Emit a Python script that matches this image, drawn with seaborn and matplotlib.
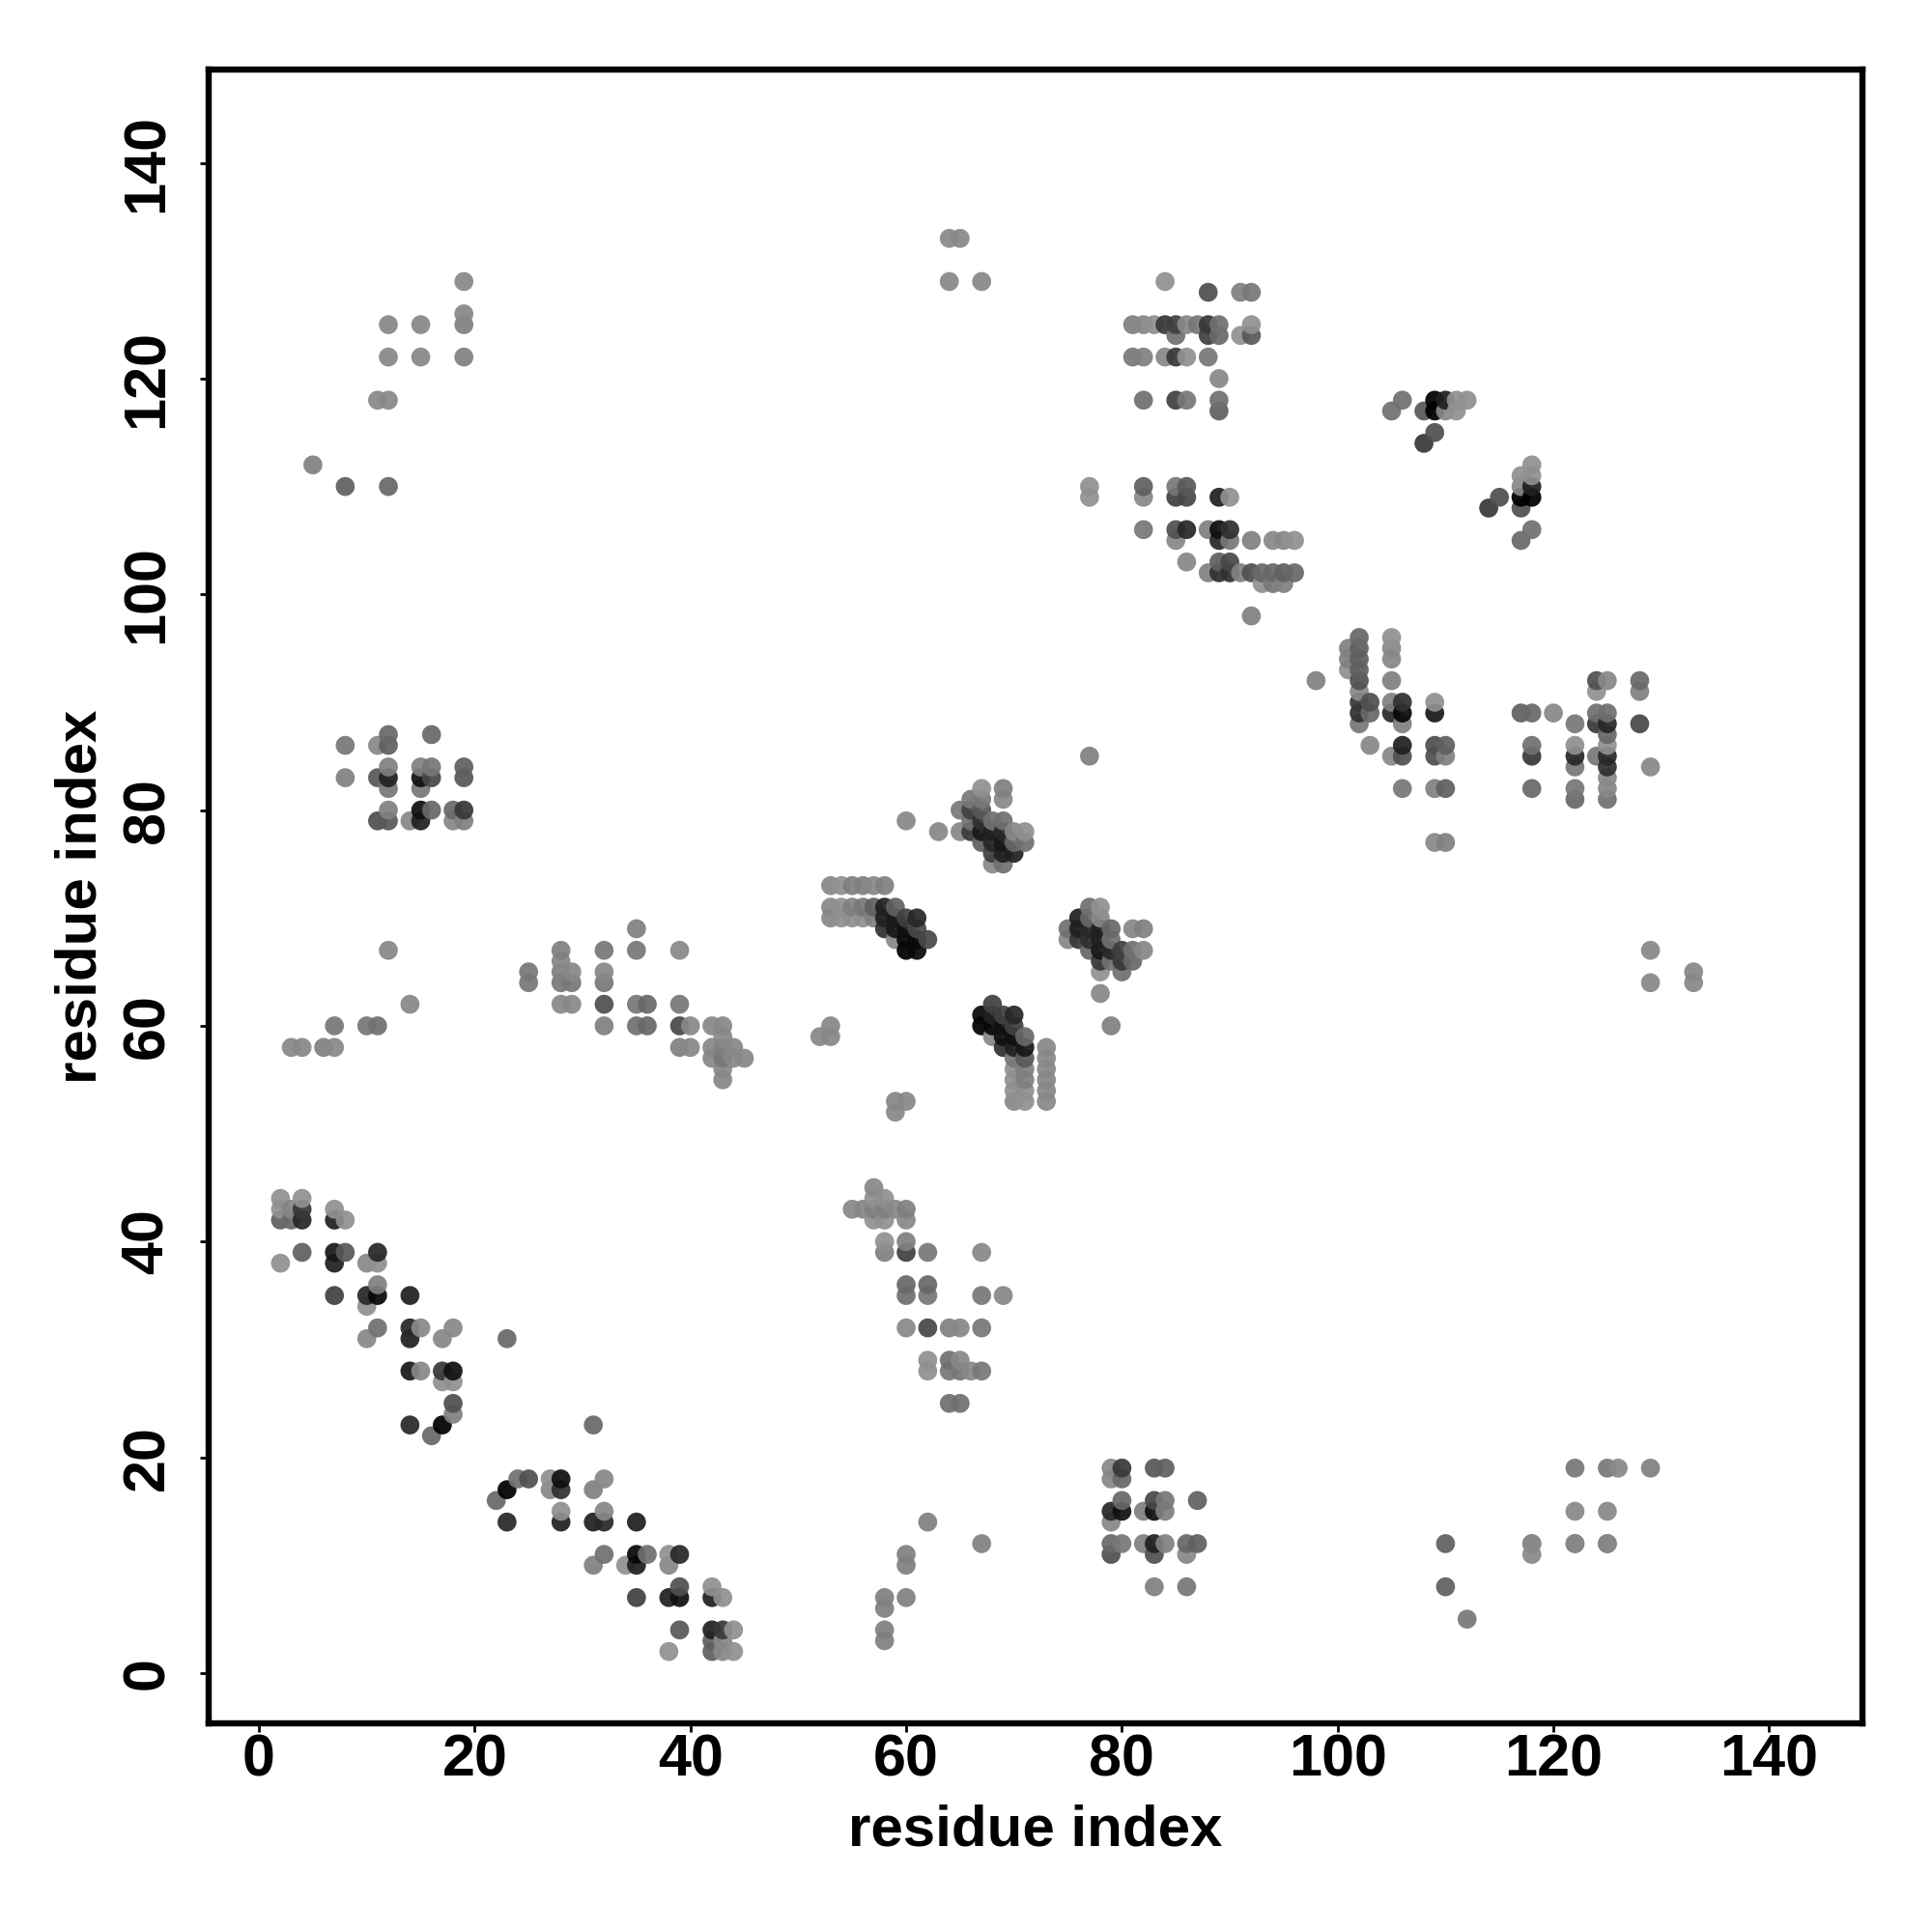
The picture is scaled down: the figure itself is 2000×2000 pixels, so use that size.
import matplotlib
matplotlib.use('Agg')
import matplotlib.pyplot as plt
import numpy as np
import pandas as pd
import seaborn as sns

# --- contact rows: one y value, then the x positions and grey levels on that row ---
row_y = [
    # diagonal, bottom left
    44, 43, 42, 39, 38, 36, 35, 34, 32, 31, 28, 27, 25, 24, 23, 22, 18, 17, 16, 15, 14, 11, 10, 8, 7, 4, 3, 2,
    # upper left
    129, 126, 125, 122, 118, 112, 110,
    # top centre
    133, 129,
    # top block 81-96
    129, 128, 125, 124, 122, 120, 118, 117, 115, 114, 112, 111, 110, 109, 108, 106, 105, 103, 102, 101, 98,
    # block 98-129
    96, 95, 94, 93, 92, 91, 90, 89, 88, 87, 86, 85, 84, 83, 82, 81, 77,
    # bottom block 79-87
    19, 18, 16, 15, 14, 12, 11, 8,
    # left block
    87, 86, 84, 83, 82, 80, 79,
    # row 55-69 left
    69, 67, 66, 65, 64, 62, 60, 59, 58, 57, 56, 55,
    # upper centre cluster
    85, 82, 81, 80, 79, 78, 77, 76, 75,
    # left centre cluster
    73, 71, 70, 69, 68, 67,
    # right centre cluster
    71, 70, 69, 68, 67, 66, 65, 63, 60,
    # lower centre cluster
    62, 61, 60, 59, 58, 57, 56, 55, 54, 53, 60, 59, 53, 52,
    # bottom centre
    45, 44, 43, 42, 40, 39, 36, 35, 32, 29, 28, 25,
    # small groups
    14, 12, 11, 10, 7, 6, 4, 3,
    12, 8, 5, 19, 15, 12, 11,
    67, 65, 64,
]
row_x = [
    [2, 4], [2, 3, 4, 7], [2, 3, 4, 7, 8], [4, 7, 8, 11], [2, 7, 10, 11], [11], [7, 10, 11, 14], [10],
    [11, 14, 15, 18], [10, 14, 17, 23], [14, 15, 17, 18], [17, 18], [18], [18], [14, 17, 31], [16],
    [24, 25, 27, 28, 32], [23, 27, 28, 31], [22], [28, 32], [23, 28, 31, 32, 35], [32, 35, 36, 38, 39],
    [31, 34, 35, 38], [39, 42], [35, 38, 39, 42, 43], [39, 42, 43, 44], [42, 43], [38, 42, 43, 44],
    [19], [19], [12, 15, 19], [12, 15, 19], [11, 12], [5], [8, 12],
    [64, 65], [64, 67],
    [84], [88, 91, 92], [81, 82, 83, 84, 85, 86, 87, 88, 89, 92], [85, 88, 89, 91, 92],
    [81, 82, 84, 85, 86, 88], [89], [82, 85, 86, 89, 106, 109, 110, 111, 112], [89, 105, 108, 109, 110, 111],
    [109], [108], [118], [117, 118], [77, 82, 85, 86, 117, 118], [77, 82, 85, 86, 89, 90, 115, 117, 118],
    [114, 117], [82, 85, 86, 88, 89, 90, 118], [85, 89, 90, 92, 94, 95, 96, 117], [86, 89, 90],
    [88, 89, 90, 91, 92, 93, 94, 95, 96], [93, 94, 95], [92],
    [102, 105], [101, 102, 105], [101, 102, 105], [101, 102], [98, 102, 105, 124, 125, 128], [102, 124, 128],
    [102, 103, 105, 106, 109], [102, 103, 105, 106, 109, 117, 118, 120, 124, 125], [102, 106, 122, 124, 125, 128],
    [125], [103, 106, 109, 110, 118, 122, 125], [105, 106, 109, 110, 118, 122, 124, 125], [122, 125, 129], [125],
    [106, 109, 110, 118, 122, 125], [122, 125], [109, 110],
    [79, 80, 83, 84], [79, 80], [80, 83, 84, 87], [79, 80, 82, 83, 84], [79], [79, 80, 82, 83, 84, 86, 87],
    [79, 83, 86], [83, 86],
    [12, 16], [8, 11, 12], [12, 15, 16, 19], [8, 11, 12, 15, 16, 19], [12, 15], [12, 15, 16, 18, 19],
    [11, 12, 14, 15, 18, 19],
    [35], [12, 28, 32, 35, 39], [28], [25, 28, 29, 32], [25, 28, 29, 32], [14, 28, 29, 32, 35, 36, 39],
    [7, 10, 11, 32, 35, 36, 39, 40, 42, 43], [43], [3, 4, 6, 7, 39, 40, 42, 43, 44], [42, 43, 44, 45], [43], [43],
    [77], [67, 69], [66, 67, 69], [65, 66, 67], [60, 66, 67, 68, 69], [63, 65, 66, 67, 68, 69, 70, 71],
    [67, 68, 69, 70, 71], [68, 69, 70], [68, 69],
    [53, 54, 55, 56, 57, 58], [53, 54, 55, 56, 57, 58, 59], [53, 54, 55, 56, 57, 58, 59, 60, 61], [58, 59, 60, 61],
    [59, 60, 61, 62], [60, 61],
    [77, 78], [76, 77, 78], [75, 76, 77, 78, 79, 81, 82], [75, 76, 77, 78, 79], [77, 78, 79, 80, 81, 82],
    [78, 79, 80, 81], [78, 80], [78], [79],
    [68], [67, 68, 69, 70], [67, 68, 69, 70], [68, 69, 70, 71], [69, 70, 71, 73], [70, 71, 73], [70, 71, 73],
    [70, 71, 73], [70, 71, 73], [70, 71, 73], [53], [52, 53], [59, 60], [59],
    [57], [57, 58], [55, 56, 57, 58, 59, 60], [57, 58, 60], [58, 60], [58, 60, 62, 67], [60, 62], [60, 62, 67, 69],
    [60, 62, 64, 65, 67], [62, 64, 65], [62, 64, 65, 66, 67], [64, 65],
    [62], [67], [60], [60], [58, 60], [58], [58], [58],
    [110, 118, 122, 125], [110], [112], [122, 125, 126, 129], [122, 125], [118, 122, 125], [118],
    [129], [133], [129, 133],
]
row_grey = [
    [0x90, 0x90], [0x90, 0x85, 0x38, 0x90], [0x60, 0x68, 0x28, 0x20, 0x90], [0x60, 0x18, 0x58, 0x28],
    [0x90, 0x20, 0x88, 0x90], [0x80], [0x40, 0x28, 0x08, 0x20], [0x90],
    [0x70, 0x28, 0x88, 0x88], [0x88, 0x20, 0x88, 0x68], [0x18, 0x88, 0x38, 0x10], [0x90, 0x90], [0x50], [0x80],
    [0x28, 0x00, 0x68], [0x68],
    [0x70, 0x50, 0x90, 0x10, 0x88], [0x00, 0x88, 0x30, 0x80], [0x68], [0x90, 0x88], [0x28, 0x20, 0x20, 0x28, 0x20],
    [0x70, 0x08, 0x70, 0x90, 0x28],
    [0x80, 0x90, 0x20, 0x88], [0x50, 0x90], [0x40, 0x20, 0x10, 0x20, 0x90], [0x58, 0x20, 0x38, 0x90], [0x60, 0x88],
    [0x90, 0x60, 0x88, 0x90],
    [0x88], [0x88], [0x88, 0x88, 0x80], [0x88, 0x88, 0x80], [0x88, 0x88], [0x80], [0x60, 0x68],
    [0x88, 0x88], [0x88, 0x88],
    [0x90], [0x50, 0x80, 0x78], [0x80, 0x88, 0x90, 0x38, 0x40, 0x88, 0x78, 0x38, 0x70, 0x90],
    [0x70, 0x40, 0x68, 0x90, 0x58],
    [0x78, 0x80, 0x88, 0x38, 0x90, 0x78], [0x88], [0x70, 0x40, 0x78, 0x70, 0x70, 0x00, 0x20, 0x90, 0x90],
    [0x60, 0x70, 0x58, 0x00, 0x88, 0x90],
    [0x50], [0x38], [0x90], [0x90, 0x90], [0x90, 0x60, 0x78, 0x58, 0x88, 0x20],
    [0x90, 0x88, 0x40, 0x48, 0x20, 0x90, 0x50, 0x00, 0x00],
    [0x38, 0x50], [0x78, 0x50, 0x28, 0x80, 0x10, 0x30, 0x70], [0x88, 0x28, 0x78, 0x80, 0x88, 0x88, 0x90, 0x68],
    [0x88, 0x60, 0x48],
    [0x80, 0x30, 0x30, 0x80, 0x50, 0x68, 0x68, 0x60, 0x68], [0x90, 0x78, 0x80], [0x80],
    [0x68, 0x90], [0x80, 0x60, 0x88], [0x80, 0x60, 0x88], [0x90, 0x60], [0x80, 0x50, 0x80, 0x50, 0x88, 0x68],
    [0x88, 0x90, 0x80],
    [0x38, 0x50, 0x80, 0x30, 0x90], [0x30, 0x68, 0x28, 0x08, 0x18, 0x60, 0x68, 0x88, 0x70, 0x70],
    [0x78, 0x80, 0x78, 0x38, 0x28, 0x48],
    [0x68], [0x88, 0x20, 0x50, 0x60, 0x70, 0x90, 0x90], [0x88, 0x50, 0x50, 0x80, 0x38, 0x28, 0x78, 0x28],
    [0x78, 0x30, 0x88], [0x88],
    [0x78, 0x80, 0x60, 0x68, 0x78, 0x88], [0x68, 0x70], [0x88, 0x80],
    [0x88, 0x38, 0x58, 0x60], [0x88, 0x68], [0x68, 0x48, 0x78, 0x60], [0x28, 0x10, 0x80, 0x10, 0x80], [0x88],
    [0x68, 0x78, 0x80, 0x20, 0x80, 0x68, 0x60],
    [0x50, 0x50, 0x88], [0x80, 0x78],
    [0x68, 0x68], [0x78, 0x88, 0x60], [0x80, 0x80, 0x78, 0x60], [0x80, 0x58, 0x20, 0x10, 0x48, 0x58], [0x78, 0x78],
    [0x80, 0x10, 0x68, 0x68, 0x38],
    [0x50, 0x58, 0x88, 0x20, 0x88, 0x80],
    [0x80], [0x88, 0x80, 0x78, 0x78, 0x88], [0x88], [0x78, 0x80, 0x88, 0x88], [0x78, 0x78, 0x78, 0x78],
    [0x88, 0x88, 0x88, 0x50, 0x78, 0x68, 0x78],
    [0x78, 0x78, 0x70, 0x80, 0x70, 0x68, 0x48, 0x88, 0x88, 0x88], [0x88],
    [0x88, 0x88, 0x80, 0x88, 0x80, 0x88, 0x88, 0x80, 0x88], [0x88, 0x78, 0x88, 0x88], [0x88], [0x88],
    [0x80], [0x90, 0x80], [0x78, 0x78, 0x88], [0x78, 0x40, 0x58], [0x88, 0x70, 0x30, 0x70, 0x70],
    [0x88, 0x88, 0x38, 0x18, 0x20, 0x28, 0x88, 0x90],
    [0x60, 0x28, 0x18, 0x68, 0x70], [0x40, 0x20, 0x20], [0x88, 0x70],
    [0x88, 0x90, 0x80, 0x80, 0x88, 0x80], [0x88, 0x90, 0x80, 0x78, 0x60, 0x20, 0x60],
    [0x88, 0x90, 0x90, 0x90, 0x80, 0x20, 0x18, 0x40, 0x28], [0x30, 0x18, 0x10, 0x48],
    [0x88, 0x08, 0x08, 0x48], [0x00, 0x08],
    [0x70, 0x90], [0x20, 0x68, 0x88], [0x70, 0x20, 0x28, 0x20, 0x68, 0x88, 0x80], [0x88, 0x38, 0x30, 0x20, 0x70],
    [0x68, 0x18, 0x28, 0x40, 0x70, 0x88],
    [0x38, 0x70, 0x38, 0x68], [0x90, 0x70], [0x88], [0x80],
    [0x40], [0x08, 0x20, 0x40, 0x28], [0x00, 0x08, 0x10, 0x40], [0x88, 0x10, 0x10, 0x68], [0x30, 0x20, 0x18, 0x88],
    [0x78, 0x58, 0x88], [0x90, 0x80, 0x88],
    [0x90, 0x80, 0x88], [0x90, 0x90, 0x88], [0x88, 0x90, 0x88], [0x88], [0x88, 0x88], [0x88, 0x88], [0x88],
    [0x88], [0x90, 0x90], [0x88, 0x88, 0x80, 0x80, 0x88, 0x80], [0x90, 0x90, 0x88], [0x90, 0x80], [0x80, 0x40, 0x78, 0x88],
    [0x68, 0x68], [0x70, 0x78, 0x78, 0x88],
    [0x88, 0x48, 0x80, 0x88, 0x78], [0x90, 0x70, 0x88], [0x90, 0x78, 0x78, 0x88, 0x78], [0x70, 0x70],
    [0x80], [0x80], [0x80], [0x80], [0x80, 0x80], [0x80], [0x80], [0x80],
    [0x60, 0x88, 0x78, 0x78], [0x60], [0x78], [0x78, 0x78, 0x88, 0x80], [0x88, 0x88], [0x88, 0x88, 0x88], [0x88],
    [0x88], [0x88], [0x88, 0x88],
]

tick_values = [0, 20, 40, 60, 80, 100, 120, 140]

# R plots these in index order, later points sit on top
df = pd.DataFrame({
    'x': np.concatenate(row_x),
    'y': np.repeat(row_y, [len(r) for r in row_x]),
    'grey': np.concatenate(row_grey),
}).sort_values(['x', 'y'])

sns.set_theme(style="white")
plt.rcParams['font.family'] = ['Liberation Sans', 'DejaVu Sans']
plt.rcParams['font.weight'] = 'bold'

fig, ax = plt.subplots(figsize=(10, 10), dpi=200)
fig.subplots_adjust(left=216 / 2000, right=1928 / 2000, bottom=1 - 1784 / 2000, top=1 - 72 / 2000)

sns.scatterplot(data=df, x='x', y='y', hue='grey', palette='gray', hue_norm=(0, 255),
                s=50, linewidth=0, alpha=0.93, legend=False, ax=ax)

ax.set_xlim(-4.66, 148.65)
ax.set_ylim(-4.66, 148.65)
ax.set_xticks(tick_values)
ax.set_yticks(tick_values)
ax.tick_params(axis='both', length=3.2, width=1.0, color='black', labelcolor='black',
               bottom=True, left=True, labelsize=22)
ax.tick_params(axis='x', pad=0.5)
ax.tick_params(axis='y', pad=9)
plt.setp(ax.get_yticklabels(), rotation=90, va='center')
for spine in ax.spines.values():
    spine.set_color('black')
    spine.set_linewidth(2.3)
ax.set_xlabel('residue index', fontsize=21.6, fontweight='bold', color='black', labelpad=5.8)
ax.set_ylabel('residue index', fontsize=21.6, fontweight='bold', color='black', labelpad=5)

plt.savefig('out.png', dpi=200)
